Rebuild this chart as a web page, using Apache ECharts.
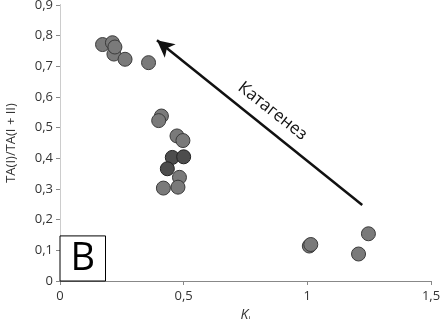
<!DOCTYPE html>
<html>
<head>
<meta charset="utf-8">
<script src="https://cdn.jsdelivr.net/npm/echarts@6/dist/echarts.min.js"></script>
<style>
  html, body { margin: 0; padding: 0; background: #fff; }
  #main { width: 440px; height: 319px; }
</style>
</head>
<body>
<div id="main"></div>
<script>
// точки (Ki, TA(I)/TA(I+II)), светлые и тёмные
var lightPts = [
    [0.172, 0.771], [0.212, 0.777], [0.218, 0.740], [0.222, 0.763],
    [0.263, 0.723], [0.358, 0.712],
    [0.410, 0.538], [0.399, 0.523],
    [0.473, 0.473], [0.497, 0.458],
    [0.483, 0.338], [0.418, 0.303], [0.477, 0.306],
    [1.008, 0.114], [1.014, 0.119], [1.247, 0.154], [1.207, 0.088]
];
var darkPts = [
    [0.454, 0.403], [0.500, 0.405], [0.434, 0.366]
];
var arrowFrom = [1.222, 0.248];
var arrowTo = [0.392, 0.785];

var myChart = echarts.init(document.getElementById('main'));

function fmt(v) {
    return String(v).replace('.', ',');
}

var option = {
    animation: false,
    textStyle: { fontFamily: 'Open Sans' },
    grid: {
        left: 60,
        right: 9,
        top: 5,
        bottom: 38,
        outerBoundsMode: 'none',
        containLabel: false
    },
    xAxis: [{
        type: 'value',
        min: 0,
        max: 1.5,
        interval: 0.5,
        axisLine: { show: true, onZero: false, lineStyle: { color: '#000', width: 1 } },
        axisTick: { show: true, length: 4, inside: false, lineStyle: { color: '#888' } },
        axisLabel: { color: '#333', fontSize: 13, margin: 9, formatter: fmt },
        splitLine: { show: false },
        name: '{k|K}{i|i}',
        nameLocation: 'middle',
        nameGap: 16,
        nameTextStyle: {
            rich: {
                k: { fontSize: 14, fontStyle: 'italic', color: '#333', fontFamily: 'Open Sans' },
                i: { fontSize: 8, color: '#333', verticalAlign: 'bottom', padding: [8, 0, 0, 0], fontFamily: 'Open Sans' }
            }
        }
    }, {
        type: 'value',
        position: 'top',
        min: 0,
        max: 1.5,
        axisLine: { show: true, lineStyle: { color: '#888' } },
        axisTick: { show: false },
        axisLabel: { show: false },
        splitLine: { show: false }
    }],
    yAxis: [{
        type: 'value',
        min: 0,
        max: 0.9,
        interval: 0.1,
        axisLine: { show: true, onZero: false, lineStyle: { color: '#888', width: 1 } },
        axisTick: { show: true, length: 4, lineStyle: { color: '#888' } },
        axisLabel: {
            color: '#333', fontSize: 13, margin: 7,
            formatter: function (v) { return fmt(Math.round(v * 10) / 10); }
        },
        splitLine: { show: false },
        name: 'TA(I)/TA(I + II)',
        nameLocation: 'middle',
        nameGap: 42,
        nameTextStyle: { color: '#333', fontSize: 13 }
    }, {
        type: 'value',
        position: 'right',
        min: 0,
        max: 0.9,
        axisLine: { show: true, lineStyle: { color: '#ccc' } },
        axisTick: { show: false },
        axisLabel: { show: false },
        splitLine: { show: false }
    }],
    series: [{
        name: 'light',
        type: 'scatter',
        symbolSize: 14,
        itemStyle: { color: '#7a7a7a', borderColor: '#3a3a3a', borderWidth: 1, opacity: 1 },
        data: lightPts,
        markLine: {
            silent: true,
            symbol: ['none', 'arrow'],
            symbolSize: [13, 17],
            label: { show: false },
            lineStyle: { color: '#111', width: 2.5, type: 'solid' },
            data: [[{ coord: arrowFrom }, { coord: arrowTo }]]
        }
    }, {
        name: 'dark',
        type: 'scatter',
        symbolSize: 14,
        itemStyle: { color: '#4d4d4d', borderColor: '#222', borderWidth: 1, opacity: 1 },
        data: darkPts
    }]
};
myChart.setOption(option);

// подпись стрелки и рамка "B"
var tp = myChart.convertToPixel({ gridIndex: 0 }, [0.859, 0.554]);
var b0 = myChart.convertToPixel({ gridIndex: 0 }, [0, 0]);
var b1 = myChart.convertToPixel({ gridIndex: 0 }, [0.184, 0.147]);
myChart.setOption({
    graphic: [{
        type: 'text',
        x: tp[0],
        y: tp[1],
        rotation: -0.67,
        style: {
            text: 'Катагенез',
            fontSize: 17,
            fontFamily: 'Open Sans',
            fill: '#111',
            align: 'center',
            verticalAlign: 'middle'
        }
    }, {
        type: 'rect',
        shape: { x: b0[0], y: b1[1], width: b1[0] - b0[0], height: b0[1] - b1[1] },
        style: { fill: '#fff', stroke: '#000', lineWidth: 1 },
        z: 10
    }, {
        type: 'text',
        x: (b0[0] + b1[0]) / 2,
        y: (b0[1] + b1[1]) / 2 + 1,
        style: {
            text: 'B',
            fontSize: 38,
            fontFamily: 'Open Sans',
            fill: '#000',
            align: 'center',
            verticalAlign: 'middle'
        },
        z: 11
    }]
});
</script>
</body>
</html>
